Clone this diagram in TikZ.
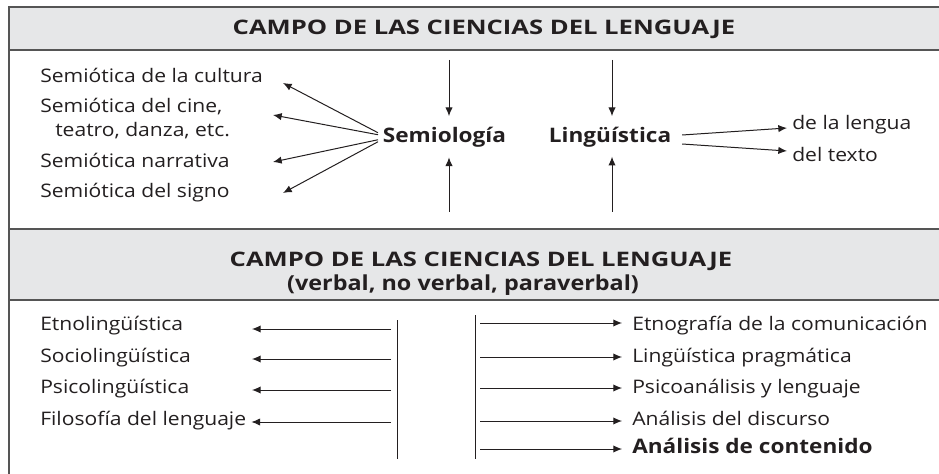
\documentclass[tikz,border=0pt]{standalone}
\usepackage{fontspec}
\setmainfont{Open Sans}[FakeStretch=1.13]
\newfontfamily\headfont{Open Sans}[FakeStretch=1.28]
\usetikzlibrary{arrows.meta,positioning,calc}
\definecolor{bandgray}{RGB}{230,231,232}
\definecolor{rulegray}{RGB}{85,85,85}
\definecolor{inkblack}{RGB}{35,31,32}

\begin{document}
\begin{tikzpicture}[x=0.75pt, y=-0.75pt, >={Latex[length=6.5pt,width=5.5pt]}, font=\fontsize{14}{16}\selectfont,
    item/.style={anchor=base west, inner sep=0pt, text=inkblack},
    hub/.style={anchor=base west, inner sep=2pt, font=\fontsize{15}{17}\selectfont\bfseries, text=inkblack},
    headtxt/.style={anchor=base, inner sep=0pt, font=\fontsize{15}{17}\selectfont\headfont\bfseries, text=inkblack},
    link/.style={->, draw=inkblack, line width=0.75pt},
    stem/.style={draw=inkblack, line width=0.75pt},
    rule/.style={draw=rulegray, line width=1.5pt}]
    \useasboundingbox (0,0) rectangle (939,474);

    % bands and frame
    \fill[bandgray] (9,7) rectangle (950,50);
    \fill[bandgray] (9,229) rectangle (950,300);
    \draw[rule] (950,7) -- (9,7) -- (9,480);
    \draw[rule] (9,50) -- (950,50);
    \draw[rule] (9,229) -- (950,229);
    \draw[rule] (9,300) -- (950,300);

    \node[headtxt] (head1) at (484,35) {CAMPO DE LAS CIENCIAS DEL LENGUAJE};
    \node[headtxt] (head2) at (481,266) {CAMPO DE LAS CIENCIAS DEL LENGUAJE};
    \node[headtxt, font=\fontsize{15.5}{17}\selectfont\bfseries] (head2sub) at (463,290) {(verbal, no verbal, paraverbal)};

    % upper field
    \node[item] (semcult) at (40,83) {Semiótica de la cultura};
    \node[item] (semcine) at (40,113) {Semiótica del cine,};
    \node[item] (semteat) at (55,137) {teatro, danza, etc.};
    \node[item] (semnarr) at (40,168) {Semiótica narrativa};
    \node[item] (semsign) at (40,198) {Semiótica del signo};

    \node[hub] (semio) at (380,143) {Semiología};
    \node[hub] (ling) at (546,143) {Lingüística};

    \node[item] (lengua) at (792,130) {de la lengua};
    \node[item] (texto) at (792,162) {del texto};

    \coordinate (tcult) at (283,83);
    \coordinate (tcine) at (273,115);
    \coordinate (tnarr) at (273,162);
    \coordinate (tsign) at (283,193);
    \coordinate (semtop) at (449,60);
    \coordinate (sembot) at (449,212);
    \coordinate (lingtop) at (612,60);
    \coordinate (lingbot) at (612,212);

    \draw[link] ($(semio.west)+(-2,-5)$) -- (tcult);
    \draw[link] ($(semio.west)+(-2,-3)$) -- (tcine);
    \draw[link] ($(semio.west)+(-2,2)$) -- (tnarr);
    \draw[link] ($(semio.west)+(-2,4)$) -- (tsign);
    \draw[link, shorten >=6.5pt] (semtop) -- (semtop |- semio.north);
    \draw[link, shorten >=5pt] (sembot) -- (sembot |- semio.south);
    \draw[link, shorten >=6.5pt] (lingtop) -- (lingtop |- ling.north);
    \draw[link, shorten >=4.5pt] (lingbot) -- (lingbot |- ling.south);
    \draw[link] ($(ling.base east)+(8,-8)$) -- ($(lengua.base west)+(-5,-2)$);
    \draw[link] ($(ling.base east)+(8,1)$) -- ($(texto.base west)+(-5,-11)$);

    % lower field
    \node[item] (etno) at (40,330) {Etnolingüística};
    \node[item] (socio) at (40,362) {Sociolingüística};
    \node[item] (psico) at (40,393) {Psicolingüística};
    \node[item] (filo) at (40,425) {Filosofía del lenguaje};

    \node[item] (etnog) at (632,330) {Etnografía de la comunicación};
    \node[item] (pragm) at (632,362) {Lingüística pragmática};
    \node[item] (psicoan) at (632,393) {Psicoanálisis y lenguaje};
    \node[item] (discur) at (632,425) {Análisis del discurso};
    \node[item, font=\fontsize{15}{17}\selectfont\bfseries] (conten) at (632,453) {Análisis de contenido};

    \coordinate (lstemtop) at (397,320);
    \coordinate (lstembot) at (397,459);
    \coordinate (rstemtop) at (475,315);
    \coordinate (rstembot) at (475,459);
    \coordinate (lfrom) at (391,0);
    \coordinate (lto) at (252,0);
    \coordinate (rfrom) at (480,0);

    \draw[stem] (lstemtop) -- (lstembot);
    \draw[stem] (rstemtop) -- (rstembot);

    \draw[link] ($(lfrom |- etno.base)+(0,-1)$) -- ($(lto |- etno.base)+(0,-1)$);
    \draw[link] ($(lfrom |- socio.base)+(0,-3)$) -- ($(lto |- socio.base)+(0,-3)$);
    \draw[link] ($(lfrom |- psico.base)+(0,-3)$) -- ($(lto |- psico.base)+(0,-3)$);
    \draw[link] ($(lfrom |- filo.base)+(0,-3)$) -- ($(filo.base east)+(5,-3)$);

    \draw[link] ($(rfrom |- etnog.base)+(0,-7)$) -- ($(etnog.base west)+(-10,-7)$);
    \draw[link] ($(rfrom |- pragm.base)+(0,-5)$) -- ($(pragm.base west)+(-10,-5)$);
    \draw[link] ($(rfrom |- psicoan.base)+(0,-5)$) -- ($(psicoan.base west)+(-10,-5)$);
    \draw[link] ($(rfrom |- discur.base)+(0,-4)$) -- ($(discur.base west)+(-10,-4)$);
    \draw[link] ($(rfrom |- conten.base)+(0,-4)$) -- ($(conten.base west)+(-10,-4)$);
\end{tikzpicture}
\end{document}
